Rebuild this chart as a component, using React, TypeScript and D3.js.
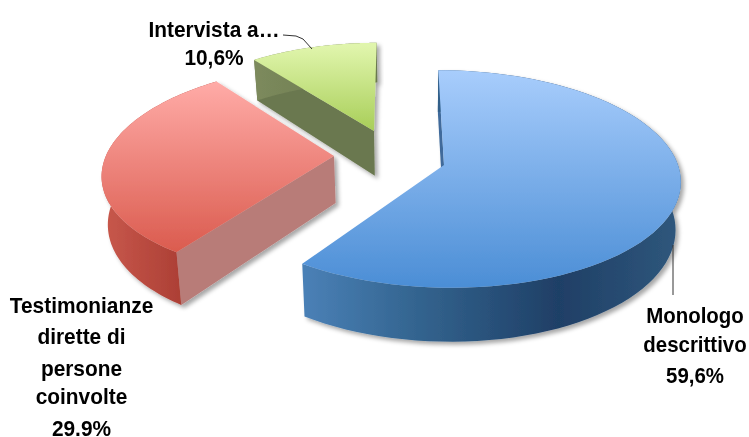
import React from 'react';
import * as d3 from 'd3';

const categories = ['Monologo descrittivo', 'Testimonianze dirette di persone coinvolte', 'Intervista a…'];
const values = [59.6, 29.9, 10.6];
const monologoLines = ['Monologo', 'descrittivo', '59,6%'];
const testimonianzeLines = ['Testimonianze', 'dirette di', 'persone', 'coinvolte', '29.9%'];
const intervistaLines = ['Intervista a…', '10,6%'];

const W = 749, H = 437;
const R = 234, RY = 107, K = 0.1285, DEPTH = 47, VX = 415, SHRINK = 0.02;
const apexes = [[444, 165], [334, 156], [374, 131]];
const scales = [1, 0.975, 0.93];
const shears = [0.06, -0.14, -0.03];
const depthScales = [1, 1, 0.95];
const ids = ['blue', 'red', 'green'];
const topStops = [['#A8CDFC', '#4A8DD5'], ['#FFABA7', '#DA5A4D'], ['#E0F5AC', '#A8CE58']];
const topRanges = [[70, 290], [82, 255], [46, 131]];
const sideStops = [
  [[0, '#4A80B6'], [0.3, '#33648F'], [0.68, '#1F3F66'], [1, '#2F577C']],
  [[0, '#C8584C'], [1, '#AB3E34']],
  [[0, '#7C8A5C'], [1, '#6B7850']],
];
const sideRanges = [[305, 678], [103, 185], [253, 376]];
const wallColors = ['#3F6B9B', '#B87B78', '#6B7850'];

const pieGen = d3.pie<number>().sort(null).startAngle(0).endAngle(2 * Math.PI);
const arcs = pieGen(values);

function project(i: number, a: number, r: number, down: boolean): [number, number] {
  const u = Math.sin(a) * r, v = -Math.cos(a) * r;
  const w = 1 / (1 - K * v);
  const s = scales[i];
  const [cx, cy] = apexes[i];
  const py = RY * v * w * s;
  let x = cx + R * u * w * s + shears[i] * py;
  let y = cy + py;
  if (down) {
    x += (VX - x) * SHRINK;
    y += DEPTH * w * depthScales[i];
  }
  return [x, y];
}

const lineGen = d3.line<[number, number]>().x(d => d[0]).y(d => d[1]);

function sample(a0: number, a1: number): number[] {
  return d3.range(0, 81).map(k => a0 + ((a1 - a0) * k) / 80);
}

function Label({ lines, cx, ys, size, sx }: { lines: string[]; cx: number; ys: number[]; size: number; sx: number }) {
  return (
    <g transform={`translate(${cx},0) scale(${sx},1)`} filter="url(#textsoft)">
      <text textAnchor="middle" fontFamily="Liberation Sans, Arial, sans-serif" fontWeight="bold" fontSize={size} fill="#000">
        {lines.map((t, i) => (
          <tspan key={t} x={0} y={ys[i]}>{t}</tspan>
        ))}
      </text>
    </g>
  );
}

export default function App() {
  const order = [2, 1, 0];
  return (
    <svg width={W} height={H} style={{ position: 'absolute', left: 0, top: 0, background: '#fff' }}>
      <title>{categories.join(', ')}</title>
      <defs>
        <filter id="sh" x="-10%" y="-10%" width="125%" height="125%">
          <feDropShadow dx="3" dy="3" stdDeviation="2" floodColor="#000" floodOpacity="0.35" />
        </filter>
        <filter id="soft" x="-5%" y="-5%" width="110%" height="110%">
          <feGaussianBlur stdDeviation="0.4" />
        </filter>
        <filter id="textsoft" x="-5%" y="-5%" width="110%" height="110%">
          <feGaussianBlur stdDeviation="0.3" />
        </filter>
        {ids.map((id, i) => (
          <React.Fragment key={id}>
            <linearGradient id={`top-${id}`} gradientUnits="userSpaceOnUse" x1="0" x2="0" y1={topRanges[i][0]} y2={topRanges[i][1]}>
              <stop offset="0" stopColor={topStops[i][0]} />
              <stop offset="1" stopColor={topStops[i][1]} />
            </linearGradient>
            <linearGradient id={`side-${id}`} gradientUnits="userSpaceOnUse" y1="0" y2="0" x1={sideRanges[i][0]} x2={sideRanges[i][1]}>
              {sideStops[i].map(s => (
                <stop key={String(s[0])} offset={s[0] as number} stopColor={s[1] as string} />
              ))}
            </linearGradient>
          </React.Fragment>
        ))}
      </defs>

      {order.map(i => {
        const { startAngle: a0, endAngle: a1 } = arcs[i];
        const angles = sample(a0, a1);
        const topArc = angles.map(a => project(i, a, 1, false));
        const botArc = angles.map(a => project(i, a, 1, true));
        const apexTop = project(i, 0, 0, false);
        const apexBot = project(i, 0, 0, true);
        const topPath = lineGen([apexTop, ...topArc])! + 'Z';
        const sidePath = lineGen([...topArc, ...botArc.slice().reverse()])! + 'Z';
        const wallPath = lineGen([apexTop, topArc[0], botArc[0], apexBot])! + 'Z';
        return (
          <g key={ids[i]} filter="url(#soft)">
            <g filter="url(#sh)">
              <path d={wallPath} fill={wallColors[i]} />
              <path d={sidePath} fill={`url(#side-${ids[i]})`} />
              <path d={topPath} fill={`url(#top-${ids[i]})`} />
            </g>
          </g>
        );
      })}

      <path d="M283,35 L296,36 L303,39 L312,49" fill="none" stroke="#333" strokeWidth={1} />
      <path d="M673,245 L673,295" fill="none" stroke="#333" strokeWidth={1} />

      <Label lines={intervistaLines} cx={214} ys={[37, 65]} size={22} sx={0.95} />
      <Label lines={testimonianzeLines} cx={81.5} ys={[313, 344, 376, 404, 436]} size={22} sx={0.95} />
      <Label lines={monologoLines} cx={695} ys={[323, 352, 383]} size={22} sx={0.93} />
    </svg>
  );
}
